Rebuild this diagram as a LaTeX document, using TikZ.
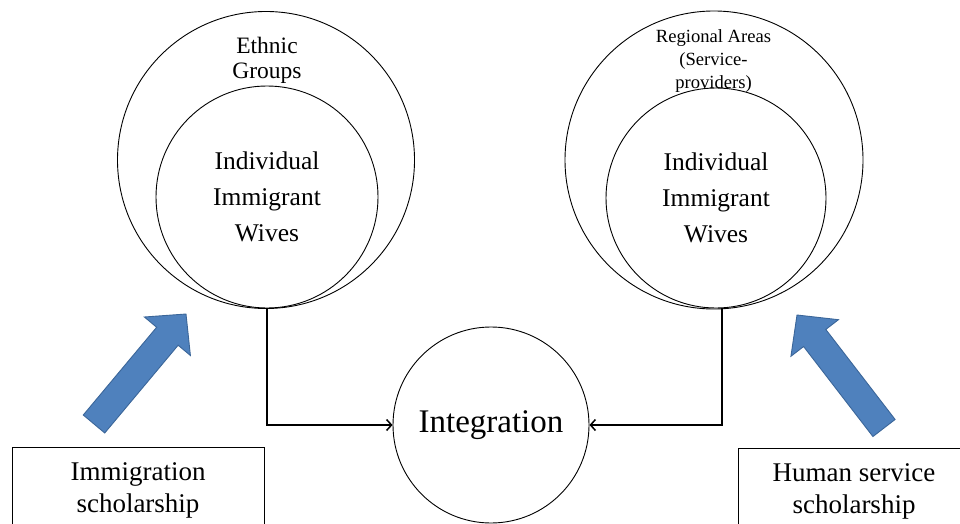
\documentclass[tikz,border=0pt]{standalone}
\usepackage{fontspec}
\setmainfont{Liberation Serif}
\usetikzlibrary{calc,arrows.meta}

\definecolor{arrowblue}{HTML}{4F81BD}
\definecolor{arrowedge}{HTML}{3B6699}

% block arrow from tail (#1) to tip (#2)
\newcommand\fatarrow[2]{%
  \coordinate (fa-b) at ($(#2)!29pt!(#1)$);
  \filldraw[blockarrow]
    ($(#1)!14pt!90:(#2)$) -- ($(fa-b)!14pt!-90:(#1)$) -- ($(fa-b)!30pt!-90:(#1)$)
    -- (#2) -- ($(fa-b)!30pt!90:(#1)$) -- ($(fa-b)!14pt!90:(#1)$)
    -- ($(#1)!14pt!-90:(#2)$) -- cycle;}

\begin{document}
\begin{tikzpicture}[x=1pt,y=-1pt,
  ring/.style={circle, draw=black, line width=0.9pt, inner sep=0pt, align=center},
  captxt/.style={align=center, inner sep=0pt},
  wives/.style={font=\fontsize{25.5}{36}\selectfont},
  box/.style={draw=black, line width=0.8pt, align=center, inner sep=0pt,
    anchor=north, minimum height=86pt, font=\fontsize{27}{32}\selectfont},
  flow/.style={line width=1.5pt, -{Straight Barb[length=5pt,width=11pt]}},
  blockarrow/.style={fill=arrowblue, draw=arrowedge, line width=0.9pt, line join=miter}
]
\useasboundingbox (0,0) rectangle (960,524);
\clip (0,0) rectangle (960,524);

% left pair of circles
\node[ring, minimum size=297pt] (ethnic) at (266,160) {};
\node[ring, wives, minimum size=222pt] (wivesL) at (267,197) {Individual\\Immigrant\\Wives};
\node[captxt, font=\fontsize{23.5}{25}\selectfont] (ethnicT) at (267,60) {Ethnic\\Groups};

% right pair of circles
\node[ring, minimum size=298pt] (region) at (714,160) {};
\node[ring, wives, minimum size=220pt] (wivesR) at (716,198) {Individual\\Immigrant\\Wives};
\node[captxt, font=\fontsize{18.6}{23}\selectfont] (regionT) at (713.5,61) {Regional Areas\\(Service-\\providers)};

% outcome
\node[ring, minimum size=196pt, font=\fontsize{33}{40}\selectfont] (integ) at (491,425) {Integration};

\draw[flow] (wivesL.south) |- (integ.west);
\draw[flow] ([xshift=6pt]wivesR.south) |- (integ.east);

% scholarship boxes
\node[box, minimum width=252pt] (immbox) at (138,447) {Immigration\\scholarship};
\node[box, minimum width=232pt] (hsbox) at (854,448) {Human service\\scholarship};

% influence arrows
\coordinate (lt) at (94,424);  \coordinate (lp) at (186,314);
\coordinate (rt) at (884,428); \coordinate (rp) at (797,315);
\fatarrow{lt}{lp}
\fatarrow{rt}{rp}
\end{tikzpicture}
\end{document}
